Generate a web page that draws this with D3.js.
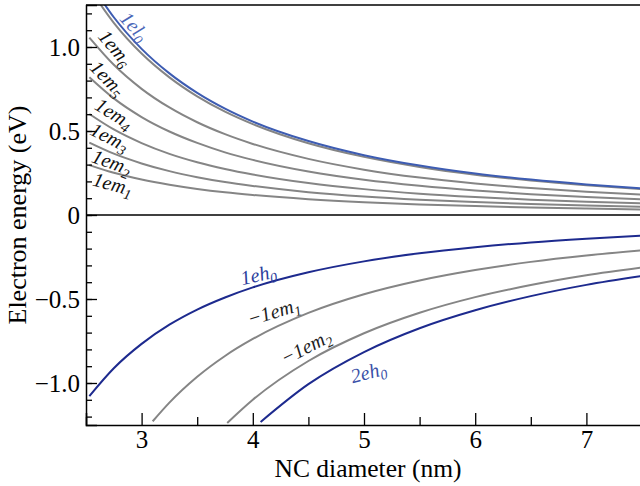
<!DOCTYPE html>
<html>
<head>
<meta charset="utf-8">
<script src="https://cdn.jsdelivr.net/npm/d3@7"></script>
<style>
  html, body { margin: 0; padding: 0; background: #fff; }
  svg { display: block; }
  svg text { font-family: "Liberation Serif", "Times New Roman", "DejaVu Serif", serif; }
</style>
</head>
<body>
<svg id="chart" width="640" height="486"></svg>
<script>
// diameters (nm) shared by the full-range curves
const diam = [2.53, 2.75, 3, 3.25, 3.5, 3.75, 4, 4.5, 5, 5.5, 6, 6.5, 7, 7.5]

// electron levels (eV)
const el0 = [1.390, 1.177, 0.989, 0.843, 0.727, 0.633, 0.556, 0.440, 0.356, 0.294, 0.247, 0.211, 0.182, 0.158]
const em6 = [1.351, 1.144, 0.961, 0.819, 0.706, 0.615, 0.541, 0.427, 0.346, 0.286, 0.240, 0.205, 0.177, 0.154]
const em5 = [1.056, 0.894, 0.751, 0.640, 0.552, 0.481, 0.423, 0.334, 0.270, 0.223, 0.188, 0.160, 0.138, 0.122]
const em4 = [0.820, 0.694, 0.583, 0.497, 0.429, 0.373, 0.328, 0.259, 0.210, 0.174, 0.146, 0.124, 0.107, 0.094]
const em3 = [0.601, 0.509, 0.428, 0.364, 0.314, 0.274, 0.241, 0.190, 0.154, 0.127, 0.107, 0.091, 0.079, 0.070]
const em2 = [0.431, 0.365, 0.307, 0.261, 0.225, 0.196, 0.173, 0.136, 0.110, 0.091, 0.077, 0.065, 0.056, 0.049]
const em1 = [0.297, 0.251, 0.211, 0.180, 0.155, 0.135, 0.119, 0.094, 0.076, 0.063, 0.053, 0.045, 0.039, 0.033]

// hole levels (eV)
const eh1 = [-1.078, -0.912, -0.767, -0.653, -0.563, -0.491, -0.431, -0.341, -0.276, -0.228, -0.192, -0.163, -0.141, -0.123]

const diamNegM1 = [3.1, 3.25, 3.5, 3.75, 4, 4.5, 5, 5.5, 6, 6.5, 7, 7.5]
const negEm1 = [-1.228, -1.117, -0.963, -0.839, -0.738, -0.583, -0.472, -0.390, -0.328, -0.279, -0.241, -0.210]

const diamNegM2 = [3.77, 4, 4.5, 5, 5.5, 6, 6.5, 7, 7.5]
const negEm2 = [-1.238, -1.100, -0.869, -0.704, -0.582, -0.489, -0.417, -0.359, -0.313]

const diamH2 = [4.07, 4.5, 5, 5.5, 6, 6.5, 7, 7.5]
const eh2 = [-1.232, -1.007, -0.816, -0.674, -0.567, -0.483, -0.416, -0.363]

// tick values
const xTicks = [3, 4, 5, 6, 7]
const xMinor = [2.5, 3.5, 4.5, 5.5, 6.5, 7.5]
const yTicks = [-1, -0.5, 0, 0.5, 1]
const yMinor = d3.range(-12, 13).map(i => i / 10)

const SERIF = '"Liberation Serif", "Times New Roman", "DejaVu Serif", serif'
const BLUE_E = '#3d5cb2'
const BLUE_H = '#1d2a8e'
const GRAY = '#858585'

const series = [
  { x: diam, y: em1, color: GRAY },
  { x: diam, y: em2, color: GRAY },
  { x: diam, y: em3, color: GRAY },
  { x: diam, y: em4, color: GRAY },
  { x: diam, y: em5, color: GRAY },
  { x: diam, y: em6, color: GRAY },
  { x: diam, y: el0, color: BLUE_E },
  { x: diam, y: eh1, color: BLUE_H },
  { x: diamNegM1, y: negEm1, color: GRAY },
  { x: diamNegM2, y: negEm2, color: GRAY },
  { x: diamH2, y: eh2, color: BLUE_H },
]

// curve labels: [main, sub, d, E, angle, color]
const labels = [
  ['1el', '0', 2.93, 1.12, 48, '#4a66b8'],
  ['1em', '6', 2.76, 0.99, 50, '#111'],
  ['1em', '5', 2.69, 0.81, 46, '#111'],
  ['1em', '4', 2.75, 0.60, 32, '#111'],
  ['1em', '3', 2.71, 0.46, 27, '#111'],
  ['1em', '2', 2.73, 0.31, 20, '#111'],
  ['1em', '1', 2.74, 0.18, 15, '#111'],
  ['1eh', '0', 4.05, -0.36, -13, '#2b3d9c'],
  ['\u22121em', '1', 4.19, -0.58, -17, '#222'],
  ['\u22121em', '2', 4.48, -0.79, -27, '#222'],
  ['2eh', '0', 5.04, -0.94, -15, '#3a50a8'],
]

const svg = d3.select('#chart')

const plotLeft = 86, plotRight = 642, plotTop = 5, plotBottom = 425

const x = d3.scaleLinear().domain([2.5, 7.5]).range([plotLeft, plotRight])
const y = d3.scaleLinear().domain([-1.25, 1.25]).range([plotBottom, plotTop])

svg.append('clipPath')
    .attr('id', 'plot-clip')
  .append('rect')
    .attr('x', plotLeft)
    .attr('y', plotTop)
    .attr('width', plotRight - plotLeft)
    .attr('height', plotBottom - plotTop)

const line = d3.line()
    .x(d => x(d[0]))
    .y(d => y(d[1]))
    .curve(d3.curveMonotoneX)

const plot = svg.append('g')
    .attr('clip-path', 'url(#plot-clip)')

plot.selectAll('path.curve')
  .data(series)
  .join('path')
    .attr('class', 'curve')
    .attr('fill', 'none')
    .attr('stroke', s => s.color)
    .attr('stroke-width', 2)
    .attr('d', s => line(s.x.map((v, i) => [v, s.y[i]])))

// zero line
svg.append('line')
    .attr('x1', plotLeft)
    .attr('x2', plotRight)
    .attr('y1', y(0))
    .attr('y2', y(0))
    .attr('stroke', '#000')
    .attr('stroke-width', 1.5)

// top frame
svg.append('line')
    .attr('x1', plotLeft)
    .attr('x2', plotRight)
    .attr('y1', plotTop)
    .attr('y2', plotTop)
    .attr('stroke', '#000')
    .attr('stroke-width', 1.5)

// axes
const fmtY = v => v === 0 ? '0' : d3.format('.1f')(v).replace('-', '\u2212')

const yAxis = svg.append('g')
    .attr('transform', `translate(${plotLeft},0)`)
    .call(d3.axisLeft(y).tickValues(yTicks).tickFormat(fmtY).tickSize(-11).tickPadding(6))

svg.append('g')
    .attr('transform', `translate(${plotLeft},0)`)
    .call(d3.axisLeft(y).tickValues(yMinor).tickFormat('').tickSize(-6))
    .call(g => g.select('.domain').remove())

const xAxis = svg.append('g')
    .attr('transform', `translate(0,${plotBottom})`)
    .call(d3.axisBottom(x).tickValues(xTicks).tickFormat(d3.format('d')).tickSize(-12).tickPadding(5))

svg.append('g')
    .attr('transform', `translate(0,${plotBottom})`)
    .call(d3.axisBottom(x).tickValues(xMinor).tickFormat('').tickSize(-8))
    .call(g => g.select('.domain').remove())

svg.selectAll('.domain')
    .attr('stroke-width', 1.5)
svg.selectAll('.tick line')
    .attr('stroke-width', 1.3)

svg.selectAll('g[font-family]')
    .attr('font-family', SERIF)

yAxis.selectAll('text')
    .attr('font-family', SERIF)
    .attr('font-size', 25)
    .attr('fill', '#000')
xAxis.selectAll('text')
    .attr('font-family', SERIF)
    .attr('font-size', 25)
    .attr('fill', '#000')

// axis titles
svg.append('text')
    .attr('x', (plotLeft + 640) / 2 + 5)
    .attr('y', 477)
    .attr('text-anchor', 'middle')
    .attr('font-family', SERIF)
    .attr('font-size', 25.5)
    .text('NC diameter (nm)')

svg.append('text')
    .attr('transform', `translate(26,${y(0)}) rotate(-90)`)
    .attr('text-anchor', 'middle')
    .attr('font-family', SERIF)
    .attr('font-size', 26)
    .text('Electron energy (eV)')

// curve labels
const lab = svg.selectAll('text.curve-label')
  .data(labels)
  .join('text')
    .attr('class', 'curve-label')
    .attr('transform', d => `translate(${x(d[2])},${y(d[3])}) rotate(${d[4]})`)
    .attr('text-anchor', 'middle')
    .attr('dy', '0.3em')
    .attr('font-family', SERIF)
    .attr('font-size', 20)
    .attr('font-style', 'italic')
    .attr('fill', d => d[5])

lab.append('tspan')
    .text(d => d[0])
lab.append('tspan')
    .attr('dy', '0.3em')
    .attr('font-size', 14)
    .text(d => d[1])
</script>
</body>
</html>
